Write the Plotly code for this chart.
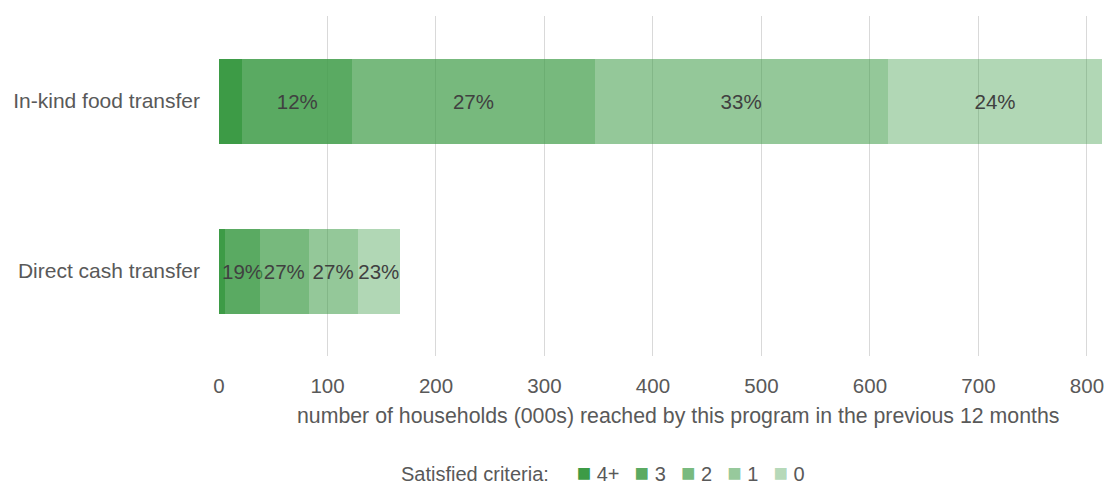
import plotly.graph_objects as go

# ---- data ----
categories = ["Direct cash transfer", "In-kind food transfer"]
series_names = ["4+", "3", "2", "1", "0"]
crit_4plus = [5.6, 21.5]
crit_3 = [32.2, 101.3]
crit_2 = [44.7, 223.4]
crit_1 = [45.4, 270.1]
crit_0 = [38.8, 198.0]
x_ticks = [0, 100, 200, 300, 400, 500, 600, 700, 800]
axis_title = "number of households (000s) reached by this program in the previous 12 months"
legend_title = "Satisfied criteria:"

series_values = [crit_4plus, crit_3, crit_2, crit_1, crit_0]
alphas = [1.0, 0.85, 0.7, 0.55, 0.4]
base = (61, 155, 70)
colors = [f"rgba({base[0]},{base[1]},{base[2]},{a})" for a in alphas]

totals = [sum(s[i] for s in series_values) for i in range(len(categories))]

FONT = "Liberation Sans, Arial, sans-serif"
fig = go.Figure()
for name, vals, col in zip(series_names, series_values, colors):
    texts = []
    for i, v in enumerate(vals):
        p = v / totals[i] * 100
        texts.append(f"{round(p)}%" if p >= 5 else "")
    fig.add_trace(go.Bar(
        name=name, y=categories, x=vals, orientation="h",
        marker=dict(color=col, line=dict(width=0)),
        text=texts, textposition="inside", insidetextanchor="middle",
        textangle=0, constraintext="none",
        textfont=dict(color="#404040", size=20.5, family=FONT),
        hoverinfo="x+name", showlegend=False,
    ))

fig.update_layout(
    barmode="stack", bargap=0.5,
    width=1108, height=489,
    margin=dict(l=219, r=0, t=16, b=133),
    paper_bgcolor="white", plot_bgcolor="white",
    font=dict(family=FONT, size=20, color="#595959"),
    showlegend=False,
)
fig.update_xaxes(
    range=[0, 819.4], tickvals=x_ticks, ticktext=[str(t) for t in x_ticks],
    showgrid=True, gridcolor="#d9d9d9", gridwidth=1,
    zeroline=False, showline=False, ticks="",
    tickfont=dict(size=20.5, color="#595959"), ticklabelstandoff=15,
)
fig.update_yaxes(
    showgrid=False, zeroline=False, showline=False, ticks="",
    tickfont=dict(size=21, color="#595959"), ticklabelstandoff=18,
)

# axis title
fig.add_annotation(
    text=axis_title, xref="paper", yref="paper",
    x=(678 - 219) / 889, y=(356 - 416) / 340, xanchor="center", yanchor="middle",
    showarrow=False, font=dict(size=21.3, color="#595959", family=FONT),
)

# legend line
nb = "\u00a0"
parts = [legend_title + nb * 5]
for i, (name, col) in enumerate(zip(series_names, colors)):
    parts.append(f"<span style='color:{col};font-size:24px'>\u25a0</span>{nb}{name}")
    if i < len(series_names) - 1:
        parts.append(nb * 2 + "\u2009")
fig.add_annotation(
    text="".join(parts), xref="paper", yref="paper",
    x=(603 - 219) / 889, y=(356 - 472) / 340, xanchor="center", yanchor="middle",
    showarrow=False, borderpad=0, font=dict(size=20, color="#595959", family=FONT),
)

fig.write_html("out.html")
